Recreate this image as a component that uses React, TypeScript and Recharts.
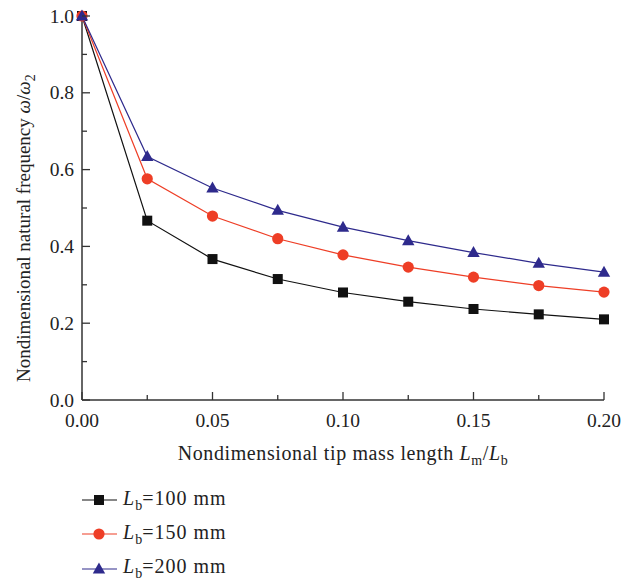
import React from 'react';
import { LineChart, Line, XAxis, YAxis, Label } from 'recharts';

const lengthRatio = [0, 0.025, 0.05, 0.075, 0.1, 0.125, 0.15, 0.175, 0.2];
const freqLb100 = [1.0, 0.467, 0.367, 0.315, 0.28, 0.256, 0.237, 0.223, 0.21];
const freqLb150 = [1.0, 0.576, 0.479, 0.42, 0.378, 0.346, 0.32, 0.298, 0.281];
const freqLb200 = [1.0, 0.634, 0.552, 0.494, 0.45, 0.415, 0.384, 0.356, 0.333];

const xTicks = [0, 0.025, 0.05, 0.075, 0.1, 0.125, 0.15, 0.175, 0.2];
const yTicks = [0, 0.1, 0.2, 0.3, 0.4, 0.5, 0.6, 0.7, 0.8, 0.9, 1.0];

const series = [
  { key: 'lb100', label: '100 mm', color: '#111111', shape: 'square' },
  { key: 'lb150', label: '150 mm', color: '#ee3e26', shape: 'circle' },
  { key: 'lb200', label: '200 mm', color: '#2e2a8c', shape: 'triangle' },
];

const data = lengthRatio.map((r, i) => ({
  r,
  lb100: freqLb100[i],
  lb150: freqLb150[i],
  lb200: freqLb200[i],
}));

const font = '"Liberation Serif", "Times New Roman", serif';
const axisColor = '#333';
const textColor = '#222';

// plot box: top 16, height 384
const plotTop = 16;
const plotHeight = 384;

const isMajorX = (v: number) => Math.round(v * 1000) % 50 === 0;
const isMajorY = (v: number) => Math.round(v * 10) % 2 === 0;

const Marker = ({ shape, cx, cy, color }: any) => {
  if (shape === 'square') {
    return <rect x={cx - 5} y={cy - 5} width={10} height={10} fill={color} />;
  }
  if (shape === 'circle') {
    return <circle cx={cx} cy={cy} r={5.6} fill={color} />;
  }
  return <polygon points={`${cx},${cy - 6.5} ${cx + 6.2},${cy + 4.5} ${cx - 6.2},${cy + 4.5}`} fill={color} />;
};

const BottomTick = (props: any) => {
  const { x, y, payload } = props;
  const major = isMajorX(payload.value);
  return (
    <g>
      <line x1={x} y1={y} x2={x} y2={y - (major ? 8 : 5)} stroke={axisColor} strokeWidth={1.3} />
      {major && (
        <text x={x} y={y + 27} textAnchor="middle" fontFamily={font} fontSize={19.5} fill={textColor}>
          {payload.value.toFixed(2)}
        </text>
      )}
    </g>
  );
};

const TopTick = (props: any) => {
  const { x, y, payload } = props;
  const major = isMajorX(payload.value);
  return <line x1={x} y1={y} x2={x} y2={y + (major ? 8 : 5)} stroke={axisColor} strokeWidth={1.3} />;
};

const LeftTick = (props: any) => {
  const { x, y, payload } = props;
  const major = isMajorY(payload.value);
  return (
    <g>
      <line x1={x} y1={y} x2={x + (major ? 8 : 5)} y2={y} stroke={axisColor} strokeWidth={1.3} />
      {major && (
        <text x={x - 8} y={y + 6.5} textAnchor="end" fontFamily={font} fontSize={19.5} fill={textColor}>
          {payload.value.toFixed(1)}
        </text>
      )}
    </g>
  );
};

const RightTick = (props: any) => {
  const { x, y, payload } = props;
  const major = isMajorY(payload.value);
  return <line x1={x} y1={y} x2={x - (major ? 8 : 5)} y2={y} stroke={axisColor} strokeWidth={1.3} />;
};

const XTitle = ({ viewBox }: any) => {
  const cx = viewBox.x + viewBox.width / 2;
  return (
    <text
      x={cx}
      y={plotTop + plotHeight + 60}
      textAnchor="middle"
      fontFamily={font}
      fontSize={20}
      letterSpacing={0.6}
      fill={textColor}
    >
      <tspan>Nondimensional tip mass length </tspan>
      <tspan fontStyle="italic">L</tspan>
      <tspan dy={5} fontSize={14}>m</tspan>
      <tspan dy={-5}>/</tspan>
      <tspan fontStyle="italic">L</tspan>
      <tspan dy={5} fontSize={14}>b</tspan>
    </text>
  );
};

// rotated title, starting just above the bottom of the plot box and reading upward
const YTitle = () => {
  const by = plotTop + plotHeight - 18;
  const bx = 30;
  return (
    <text
      x={bx}
      y={by}
      transform={`rotate(-90, ${bx}, ${by})`}
      textAnchor="start"
      fontFamily={font}
      fontSize={19}
      fill={textColor}
    >
      <tspan>Nondimensional natural frequency </tspan>
      <tspan fontStyle="italic">ω</tspan>
      <tspan>/</tspan>
      <tspan fontStyle="italic">ω</tspan>
      <tspan dy={5} fontSize={14}>2</tspan>
    </text>
  );
};

const LegendBlock = () => (
  <div
    style={{
      position: 'absolute',
      left: 81,
      top: 483,
      fontFamily: font,
      fontSize: 20,
      letterSpacing: 1,
      color: textColor,
    }}
  >
    {series.map((s) => (
      <div key={s.key} style={{ display: 'flex', alignItems: 'center', height: 34.3 }}>
        <svg width={38} height={16} style={{ marginRight: 4 }}>
          <line x1={1} y1={8} x2={36} y2={8} stroke={s.color} strokeWidth={1.2} />
          <Marker shape={s.shape} cx={18} cy={8} color={s.color} />
        </svg>
        <span>
          <i>L</i>
          <sub style={{ fontSize: 14, letterSpacing: 0 }}>b</sub>={s.label}
        </span>
      </div>
    ))}
  </div>
);

export default function App() {
  return (
    <div style={{ position: 'absolute', left: 0, top: 0, width: 633, height: 581, background: '#fff' }}>
      <LineChart width={633} height={581} data={data} margin={{ top: plotTop, right: 29, bottom: 0, left: 0 }}>
        <XAxis
          dataKey="r"
          type="number"
          domain={[0, 0.2]}
          ticks={xTicks}
          interval={0}
          height={181}
          tickSize={0}
          tickMargin={0}
          tickLine={false}
          tick={<BottomTick />}
          axisLine={{ stroke: axisColor, strokeWidth: 1.5 }}
        >
          <Label content={<XTitle />} />
        </XAxis>
        <XAxis
          xAxisId="top"
          orientation="top"
          dataKey="r"
          type="number"
          domain={[0, 0.2]}
          ticks={xTicks}
          interval={0}
          height={0}
          tickSize={0}
          tickMargin={0}
          tickLine={false}
          tick={<TopTick />}
          axisLine={{ stroke: axisColor, strokeWidth: 1.5 }}
        />
        <YAxis
          type="number"
          domain={[0, 1]}
          ticks={yTicks}
          interval={0}
          width={82}
          tickSize={0}
          tickMargin={0}
          tickLine={false}
          tick={<LeftTick />}
          axisLine={{ stroke: axisColor, strokeWidth: 1.5 }}
        >
          <Label content={<YTitle />} />
        </YAxis>
        <YAxis
          yAxisId="right"
          orientation="right"
          type="number"
          domain={[0, 1]}
          ticks={yTicks}
          interval={0}
          width={0}
          tickSize={0}
          tickMargin={0}
          tickLine={false}
          tick={<RightTick />}
          axisLine={{ stroke: axisColor, strokeWidth: 1.5 }}
        />
        {series.map((s) => (
          <Line
            key={s.key}
            dataKey={s.key}
            type="linear"
            stroke={s.color}
            strokeWidth={1.2}
            isAnimationActive={false}
            dot={(p: any) => <Marker key={`${s.key}-${p.index}`} shape={s.shape} cx={p.cx} cy={p.cy} color={s.color} />}
            activeDot={false}
          />
        ))}
      </LineChart>
      <LegendBlock />
    </div>
  );
}
